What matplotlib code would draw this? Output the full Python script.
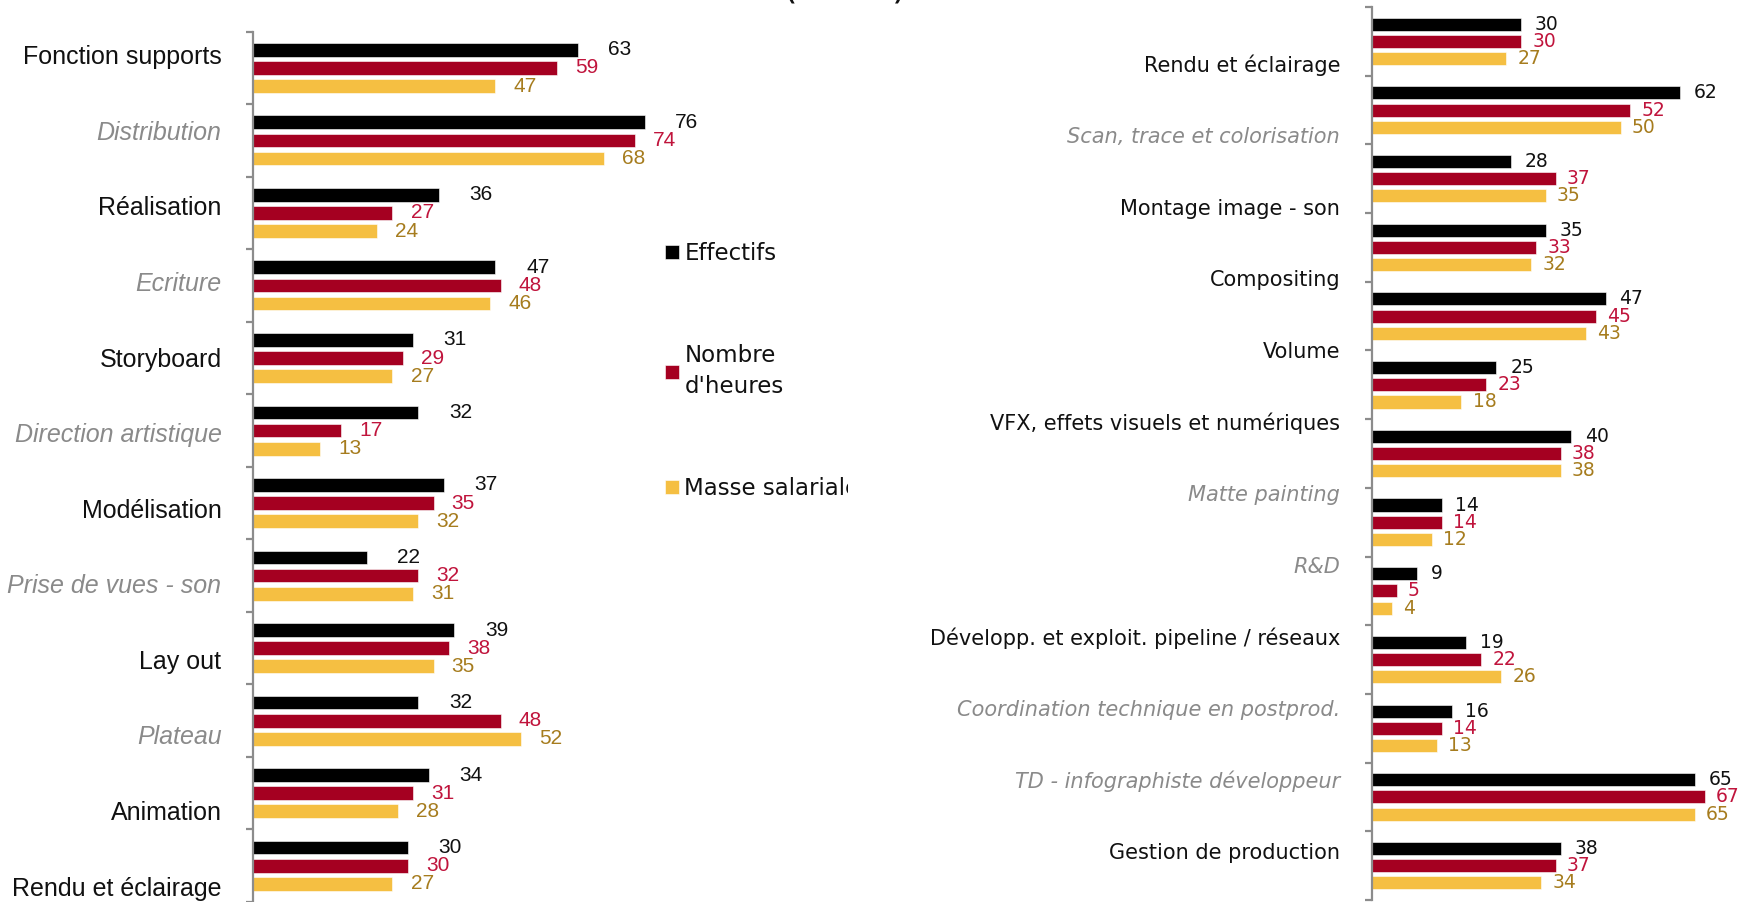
import matplotlib
matplotlib.use("Agg")
import matplotlib.pyplot as plt
import numpy as np
from matplotlib.transforms import Bbox

# Left panel data
left_cats = ["Fonction supports", "Distribution", "Réalisation", "Ecriture", "Storyboard",
             "Direction artistique", "Modélisation", "Prise de vues - son", "Lay out",
             "Plateau", "Animation", "Rendu et éclairage"]
left_effectifs = [63, 76, 36, 47, 31, 32, 37, 22, 39, 32, 34, 30]
left_heures = [59, 74, 27, 48, 29, 17, 35, 32, 38, 48, 31, 30]
left_masse = [47, 68, 24, 46, 27, 13, 32, 31, 35, 52, 28, 27]

# Right panel data (13 bar groups, 12 labels in the original)
right_cats = ["Rendu et éclairage", "Scan, trace et colorisation", "Montage image - son",
              "Compositing", "Volume", "VFX, effets visuels et numériques", "Matte painting",
              "R&D", "Développ. et exploit. pipeline / réseaux",
              "Coordination technique en postprod.", "TD - infographiste développeur",
              "Gestion de production"]
right_effectifs = [30, 62, 28, 35, 47, 25, 40, 14, 9, 19, 16, 65, 38]
right_heures = [30, 52, 37, 33, 45, 23, 38, 14, 5, 22, 14, 67, 37]
right_masse = [27, 50, 35, 32, 43, 18, 38, 12, 4, 26, 13, 65, 34]

series_names = ["Effectifs", "Nombre\nd'heures", "Masse salariale"]

italic_cats = {"Distribution", "Ecriture", "Direction artistique", "Prise de vues - son",
               "Plateau", "Scan, trace et colorisation", "Matte painting", "R&D",
               "Coordination technique en postprod.", "TD - infographiste développeur"}

bar_colors = ["#000000", "#A50021", "#F5BF42"]
label_colors = ["#111111", "#C0143C", "#A67C1E"]
axis_gray = "#8C8C8C"
italic_gray = "#8A8A8A"

W, H = 1743, 902
fig = plt.figure(figsize=(W / 100, H / 100), dpi=100)

narrow = ["Liberation Sans", "DejaVu Sans"]
normal = ["DejaVu Sans"]


def draw_panel(ax, values, cats, label_pos, font, tick_size, val_size, pads, xmax):
    n = len(values[0])
    y = np.arange(n)
    pitch = 0.25
    height = 0.19
    for k, vals in enumerate(values):
        bars = ax.barh(y + (k - 1) * pitch, vals, height=height, color=bar_colors[k],
                       edgecolor="white", linewidth=0.4, label=series_names[k])
        ax.bar_label(bars, padding=pads[k], color=label_colors[k], fontsize=val_size,
                     family=font)
    ax.set_xlim(0, xmax)
    ax.set_ylim(n - 0.5, -0.5)
    ax.xaxis.set_visible(False)
    for s in ["top", "right", "bottom"]:
        ax.spines[s].set_visible(False)
    ax.spines["left"].set_color(axis_gray)
    ax.spines["left"].set_linewidth(1.6)
    ax.set_yticks(np.arange(n + 1) - 0.5, minor=True)
    ax.tick_params(axis="y", which="minor", length=5, width=1.6, color=axis_gray)
    ax.set_yticks(label_pos, cats)
    ax.tick_params(axis="y", which="major", length=0, pad=23)
    for t in ax.get_yticklabels():
        t.set_fontsize(tick_size)
        t.set_family(font)
        if t.get_text() in italic_cats:
            t.set_fontstyle("italic")
            t.set_color(italic_gray)
        else:
            t.set_color("#111111")


# Left panel
ax1 = fig.add_axes([253.4 / W, 0.0, 520 / W, (902 - 31.6) / H])
draw_panel(ax1, [left_effectifs, left_heures, left_masse], left_cats,
           np.linspace(-0.18, 11.28, len(left_cats)), narrow, 18, 15, [22, 13, 13],
           520 / 5.15)

# Right panel
ax2 = fig.add_axes([1372 / W, 2 / H, 368 / W, (900 - 7) / H])
draw_panel(ax2, [right_effectifs, right_heures, right_masse], right_cats,
           np.linspace(0.32, 11.79, len(right_cats)), normal, 15, 13.5, [10, 8, 8],
           368 / 4.97)

# Legend
handles, labels = ax1.get_legend_handles_labels()
leg = fig.legend(handles, labels, loc="upper left", bbox_to_anchor=(665 / W, 1 - 242 / H),
                 frameon=False, borderpad=0, borderaxespad=0,
                 handlelength=0.6, handleheight=0.6, handletextpad=0.25,
                 labelspacing=3.45, prop={"family": "DejaVu Sans", "size": 16.5})
clip = Bbox.from_extents(0, 0, 848, H)
for t in leg.get_texts():
    t.set_color("#111111")
    t.set_linespacing(1.45)
    t.set_clip_box(clip)
    t.set_clip_on(True)

# Title, mostly outside the picture (only its lowest edge shows, as in the source)
fig.text(845 / W, 1 + 2.5 / H, "(en %)", ha="center", va="baseline", fontsize=27,
         color="#111111")

fig.savefig("out.png", dpi=100)
